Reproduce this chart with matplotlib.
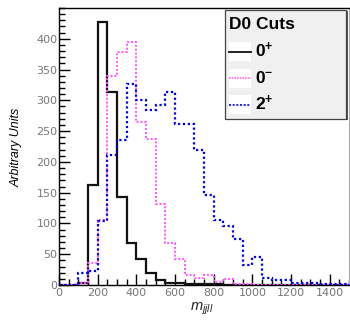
import numpy as np
import matplotlib
matplotlib.use('Agg')
import matplotlib.pyplot as plt
from matplotlib.patches import Rectangle
from matplotlib.lines import Line2D

# bin edges for m_jjll, 50 wide from 0 to 1500
edges = np.arange(0, 1550, 50)

# 0+ (black, solid)
zero_plus = [0, 0, 4, 163, 428, 314, 143, 68, 42, 19, 8, 4, 3, 1, 1, 1,
             1, 0, 0, 0, 0, 0, 0, 0, 0, 0, 0, 0, 0, 0]
# 0- (magenta, dotted)
zero_minus = [0, 0, 4, 36, 105, 339, 378, 394, 264, 237, 132, 69, 43, 17, 12, 16,
              5, 9, 2, 1, 0, 0, 0, 0, 0, 0, 0, 0, 0, 0]
# 2+ (blue, dotted)
two_plus = [0, 0, 19, 23, 104, 211, 236, 326, 301, 285, 293, 314, 262, 262, 220, 146,
            106, 96, 75, 32, 45, 12, 8, 8, 4, 4, 4, 2, 2, 2]

plt.rcParams['font.family'] = 'DejaVu Sans'
plt.rcParams['mathtext.fontset'] = 'custom'
plt.rcParams['mathtext.rm'] = 'Liberation Sans'
plt.rcParams['mathtext.it'] = 'Liberation Sans:italic'
plt.rcParams['mathtext.bf'] = 'Liberation Sans:bold'

W, H = 350, 321
fig = plt.figure(figsize=(W / 100, H / 100), dpi=100)

ax = fig.add_axes([59 / W, 1 - 285 / H, 290 / W, 277 / H])

ax.stairs(zero_plus, edges, color='#111111', linewidth=1.6, zorder=3)
ax.stairs(zero_minus, edges, color='#ff55ff', linewidth=1.4, linestyle=(0, (1, 1)), zorder=4)
ax.stairs(two_plus, edges, color='#0000ee', linewidth=1.6, linestyle=(0, (1, 1.2)), zorder=5)

ax.set_xlim(0, 1500)
ax.set_ylim(0, 450)

ax.set_xticks(np.arange(0, 1401, 200))
ax.set_xticks(np.arange(0, 1501, 50), minor=True)
ax.set_yticks(np.arange(0, 401, 50))
ax.set_yticks(np.arange(0, 451, 10), minor=True)

ax.tick_params(direction='in', which='major', length=8, width=1, color='black',
               labelsize=8, labelcolor='#777777', pad=2)
ax.tick_params(direction='in', which='minor', length=4, width=1, color='black')
ax.tick_params(axis='y', pad=1)

for s in ['left', 'bottom', 'top']:
    ax.spines[s].set_color('black')
    ax.spines[s].set_linewidth(1.0)
ax.spines['right'].set_color('#aaaaaa')
ax.spines['right'].set_linewidth(0.8)

fig.text(17 / W, 1 - 147 / H, 'Arbitrary Units', rotation=90, style='italic',
         fontsize=9, ha='center', va='center', family='Liberation Sans')
fig.text(202 / W, 1 - 309 / H, r'$m_{jjll}$', fontsize=10.5, ha='center', va='center',
         color='#222222')

# legend box drawn by hand (ROOT style)
def px(x, y):
    return x / W, 1 - y / H

lx0, ly0, lx1, ly1 = 225, 9.5, 346, 118.5
fig.add_artist(Rectangle(px(lx0 + 1.5, ly1 + 1.5), (lx1 - lx0) / W, (ly1 - ly0) / H,
                         transform=fig.transFigure, facecolor='#555555', edgecolor='none',
                         zorder=10))
fig.add_artist(Rectangle(px(lx0, ly1), (lx1 - lx0) / W, (ly1 - ly0) / H,
                         transform=fig.transFigure, facecolor='#f0f0f0', edgecolor='#444444',
                         linewidth=0.9, zorder=11))
fig.text(*px(229, 24.5), 'D0 Cuts', fontsize=12.5, fontweight='bold', ha='left', va='center',
         family='Liberation Sans', zorder=12)

entries = [(r'$\mathbf{0^{+}}$', '#111111', '-', 1.3, 51.5),
           (r'$\mathbf{0^{-}}$', '#ff66ee', (0, (1, 0.6)), 1.2, 78),
           (r'$\mathbf{2^{+}}$', '#0000ee', (0, (1.2, 1)), 1.2, 104.5)]
for lab, col, ls, lw, yc in entries:
    fig.add_artist(Rectangle(px(229, yc + 9.5), 22 / W, 19 / H, transform=fig.transFigure,
                             facecolor='white', edgecolor='none', zorder=12))
    fig.add_artist(Line2D([229 / W, 251 / W], [1 - yc / H, 1 - yc / H], color=col,
                          linestyle=ls, linewidth=lw, transform=fig.transFigure, zorder=13))
    fig.text(*px(255, yc), lab, fontsize=12.5, ha='left', va='center', zorder=13)

fig.savefig('out.png', dpi=100)
